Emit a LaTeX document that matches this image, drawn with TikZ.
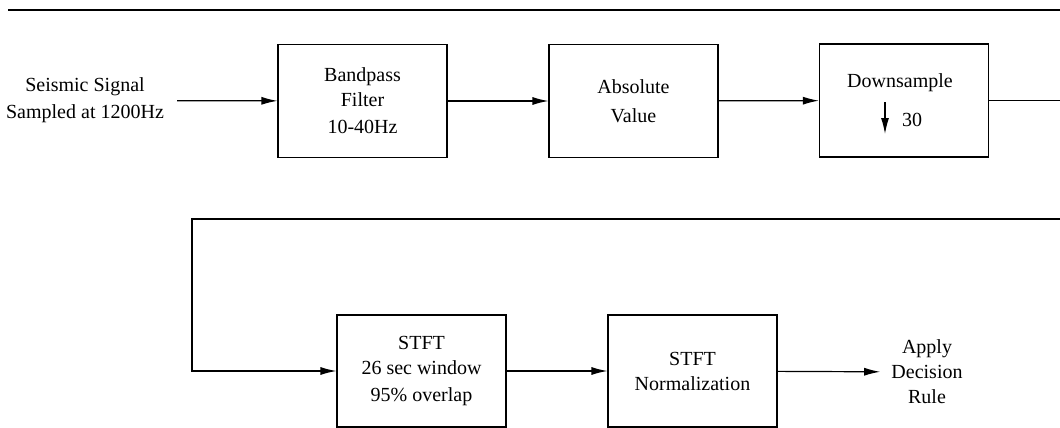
\documentclass[tikz,border=0pt]{standalone}
\usepackage{fontspec}
\setmainfont{Liberation Serif}
\usetikzlibrary{arrows.meta, positioning, calc}

\begin{document}
\begin{tikzpicture}[x=0.5pt, y=-0.5pt, line width=0.6pt,
    >={Latex[length=8pt,width=4pt]},
    block/.style={draw, minimum width=84.5pt, minimum height=56.5pt,
                  align=center, font=\fontsize{10}{12.5}\selectfont},
    lowblock/.style={block, minimum height=56pt},
    plain/.style={align=center, font=\fontsize{10}{12.5}\selectfont}]
  \useasboundingbox (0,0) rectangle (1060,428);

  % rule across the top
  \draw (8,10) -- (1060,10);

  % first row
  \node[plain] (input) at (85,100.5) {Seismic Signal\\[1pt]Sampled at 1200Hz};
  \node[block] (bpf) at (362.5,101) {Bandpass\\Filter\\[1pt]10-40Hz};
  \node[block] (absval) at (633.5,101) {Absolute\\[2pt]Value};
  \node[block] (down) at (904,100.5) {};
  \node[plain] (downtxt) at ($(down.center)+(-4,-17.5)$) {Downsample};
  \node[plain] (factor) at ($(down.center)+(8,19.5)$) {30};
  \draw[->] ($(down.center)+(-19,1.5)$) -- ++(0,32);

  \draw[->, shorten <=3pt] (input) -- (bpf);
  \draw[->] (bpf) -- (absval);
  \draw[->] (absval) -- (down);

  % wrap to the second row
  \coordinate (wrapA) at (1060,100.5);
  \coordinate (wrapB) at (1060,219);
  \coordinate (loop) at (192,219);
  \draw (down.east) -- (wrapA);

  % second row
  \node[lowblock] (stft) at (421.5,371) {STFT\\26 sec window\\[1pt]95\% overlap};
  \node[lowblock] (norm) at (692.5,371) {STFT\\Normalization};
  \node[plain] (decide) at (927,372) {Apply\\Decision\\Rule};

  \draw[->] (wrapB) -- (loop) |- (stft.west);
  \draw[->] (stft) -- (norm);
  \draw[->, shorten >=2pt] (norm) -- (decide);
\end{tikzpicture}
\end{document}
